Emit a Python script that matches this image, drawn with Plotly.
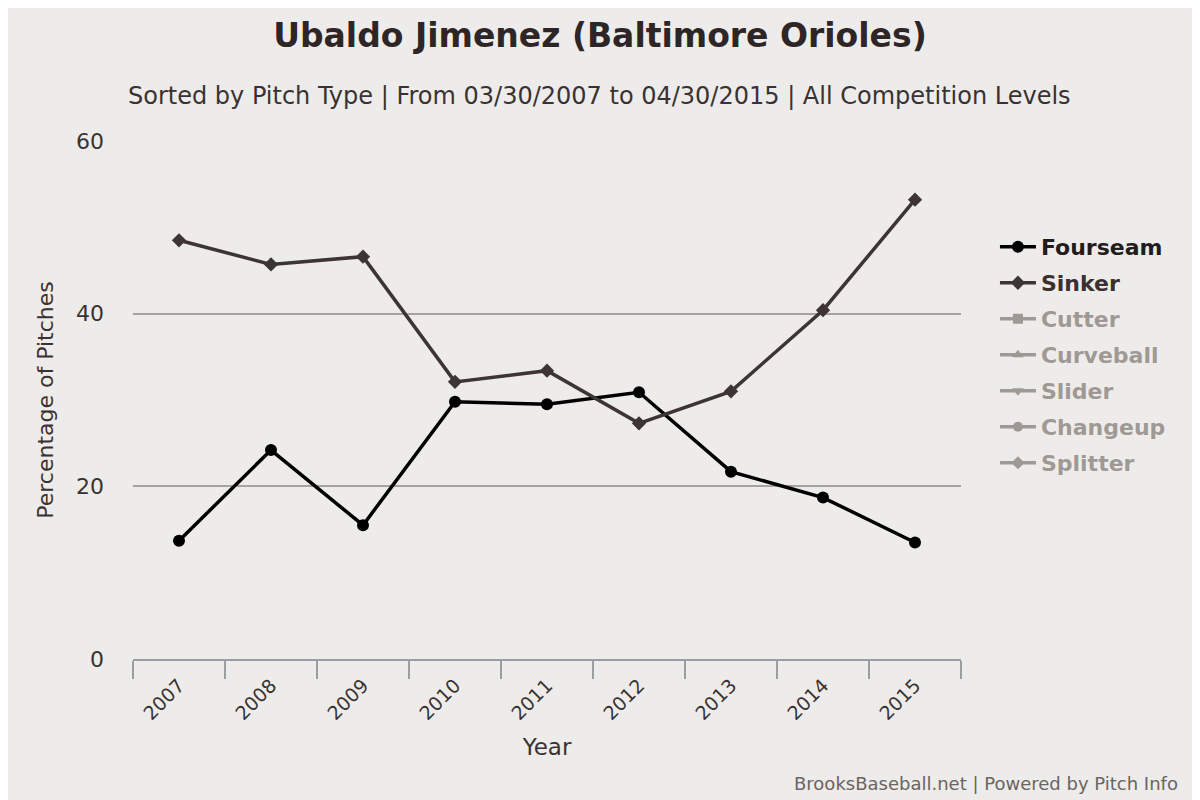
import plotly.graph_objects as go

years = ["2007", "2008", "2009", "2010", "2011", "2012", "2013", "2014", "2015"]
fourseam = [13.7, 24.2, 15.5, 29.8, 29.5, 30.9, 21.7, 18.7, 13.5]
sinker = [48.5, 45.7, 46.6, 32.1, 33.4, 27.3, 31.0, 40.4, 53.2]

# pitch types with no data in this span, only shown (greyed) in the legend
hidden = [("Cutter", "square"), ("Curveball", "triangle-up"),
          ("Slider", "triangle-down"), ("Changeup", "circle"),
          ("Splitter", "diamond")]

bg = "#eeecea"
txt = "#3a3232"
font = "DejaVu Sans"
grey = "#524842"  # shown at half opacity by legendonly

fig = go.Figure()
fig.add_trace(go.Scatter(x=years, y=fourseam, name="<b>Fourseam</b>", legendgroup="fs",
                         mode="lines+markers",
                         line=dict(color="#000000", width=3.5),
                         marker=dict(symbol="circle", size=12, color="#000000")))
fig.add_trace(go.Scatter(x=years, y=sinker,
                         name="<b><span style='color:#3a3030'>Sinker</span></b>",
                         legendgroup="si", mode="lines+markers",
                         line=dict(color="#3d3535", width=3.5),
                         marker=dict(symbol="diamond", size=11, color="#3d3535")))
for name, sym in hidden:
    fig.add_trace(go.Scatter(x=[years[0]], y=[None],
                             name="<b><span style='color:" + grey + "'>" + name + "</span></b>",
                             legendgroup=name, mode="lines+markers",
                             visible="legendonly",
                             line=dict(color=grey, width=3.5),
                             marker=dict(symbol=sym, size=10, color=grey)))

fig.update_layout(
    width=1200, height=800,
    paper_bgcolor=bg, plot_bgcolor=bg,
    margin=dict(l=125, r=247, t=133, b=149),
    font=dict(family=font, color=txt),
    title=dict(text="<b>Ubaldo Jimenez (Baltimore Orioles)</b>", x=0.4933, xanchor="center",
               y=0.966, yanchor="middle", font=dict(size=33, color="#2e2626")),
    showlegend=True,
    legend=dict(x=1.041, xanchor="left", y=0.836, yanchor="top",
                font=dict(size=22, color="#231c1c", family=font),
                tracegroupgap=4.4, itemwidth=36, bgcolor="rgba(0,0,0,0)"),
    annotations=[
        dict(text="Sorted by Pitch Type | From 03/30/2007 to 04/30/2015 | All Competition Levels",
             xref="paper", yref="paper", x=0.564, y=1.0, yshift=45, showarrow=False,
             xanchor="center", yanchor="middle", font=dict(size=24, color=txt)),
        dict(text="BrooksBaseball.net | Powered by Pitch Info", xref="paper", yref="paper",
             x=1.0, xshift=219, y=0, yshift=-124, showarrow=False,
             xanchor="right", yanchor="middle", font=dict(size=18, color="#6a6462")),
    ],
)
fig.update_xaxes(
    type="category", range=[-0.5, 8.5],
    showgrid=False, showline=True, linecolor="#9a9ea2", linewidth=2,
    ticks="outside", tickson="boundaries", ticklen=18, tickcolor="#9a9ea2", tickwidth=2,
    tickangle=-45, tickfont=dict(size=19, color=txt), ticklabelstandoff=6,
    title=dict(text="Year", font=dict(size=23, color=txt), standoff=16),
)
fig.update_yaxes(
    range=[0, 60], tickvals=[0, 20, 40, 60],
    showgrid=True, gridcolor="#a8a29e", gridwidth=2,
    zeroline=False, showline=False,
    tickfont=dict(size=22, color=txt), ticklabelstandoff=28,
    title=dict(text="Percentage of Pitches", font=dict(size=22, color=txt), standoff=16),
)

fig.write_html("out.html")
